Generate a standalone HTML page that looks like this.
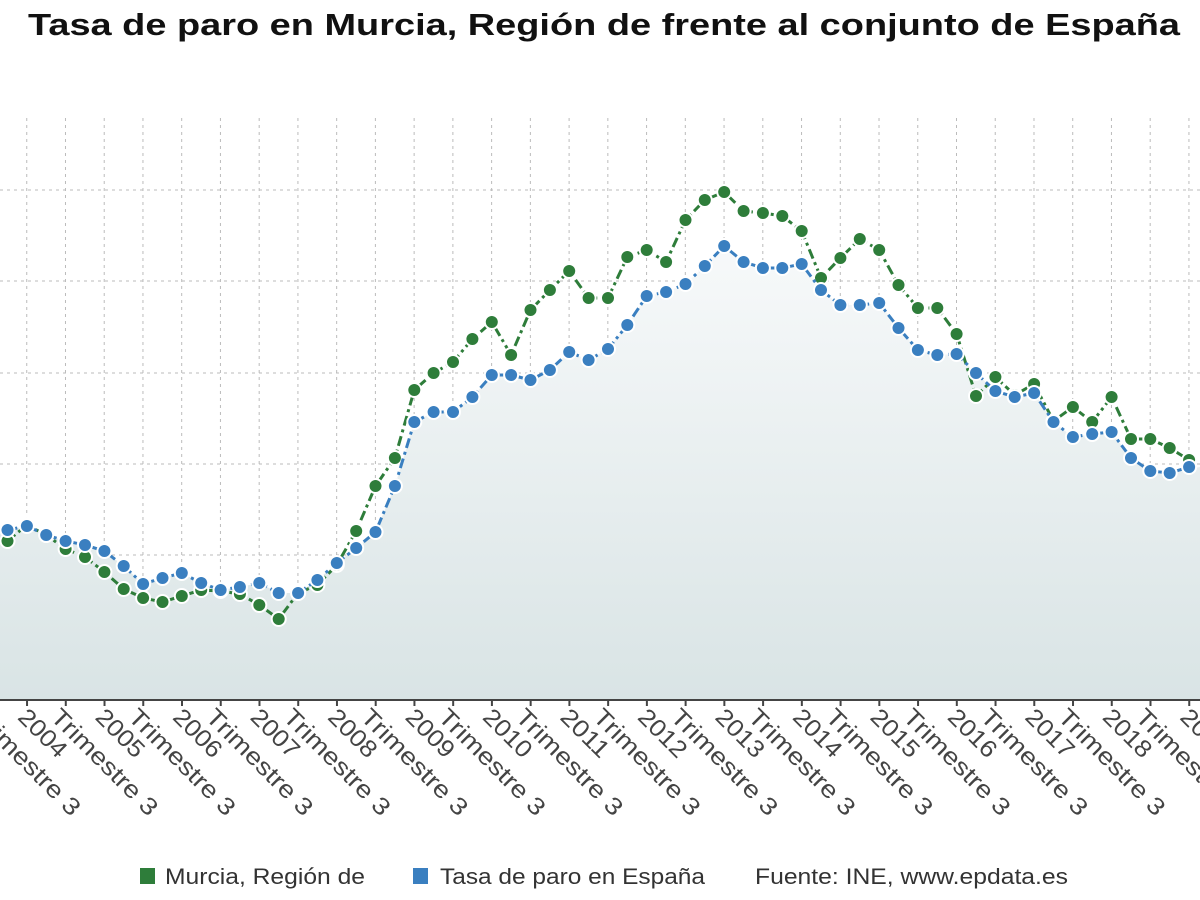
<!DOCTYPE html>
<html><head><meta charset="utf-8"><style>
html,body{margin:0;padding:0;background:#fff;width:1200px;height:900px;overflow:hidden}
svg{display:block;font-family:"Liberation Sans",sans-serif}
</style></head><body>
<svg id="s" width="1200" height="900" viewBox="0 0 1200 900">
<defs><linearGradient id="g" x1="0" y1="0" x2="0" y2="1">
<stop offset="0" stop-color="#f7f9fa"/><stop offset="1" stop-color="#d9e4e5"/></linearGradient></defs>
<text x="28" y="35" font-size="31" font-weight="bold" fill="#111" textLength="1152" lengthAdjust="spacingAndGlyphs">Tasa de paro en Murcia, Región de frente al conjunto de España</text>
<g id="c"></g>
<rect x="140" y="868" width="15" height="16" fill="#2e7d3a"/>
<text x="165" y="884" font-size="22" fill="#333" textLength="200" lengthAdjust="spacingAndGlyphs">Murcia, Región de</text>
<rect x="413" y="868" width="15" height="16" fill="#3a7fc0"/>
<text x="440" y="884" font-size="22" fill="#333" textLength="265" lengthAdjust="spacingAndGlyphs">Tasa de paro en España</text>
<text x="755" y="884" font-size="22" fill="#333" textLength="313" lengthAdjust="spacingAndGlyphs">Fuente: INE, www.epdata.es</text>
</svg>
<script>
var G=[541,525,535,549,557,572,589,598,602,596,590,591,594,605,619,593,585,565,531,486,458,390,373,362,339,322,355,310,290,271,298,298,257,250,262,220,200,192,211,213,216,231,278,258,239,250,285,308,308,334,396,377,395,384,421,407,422,397,439,439,448,460];
var B=[530,526,535,541,545,551,566,584,578,573,583,590,587,583,593,593,580,563,548,532,486,422,412,412,397,375,375,380,370,352,360,349,325,296,292,284,266,246,262,268,268,264,290,305,305,303,328,350,355,354,373,391,397,393,422,437,434,432,458,471,473,467];
var dx=19.37,x0=7.5,h='';
function X(i){return x0+i*dx}
[190,281,373,464,555,647].forEach(function(y){h+='<line x1="0" x2="1200" y1="'+y+'" y2="'+y+'" stroke="#bbb" stroke-dasharray="3,4"/>'});
for(var t=-12;t<1200;t+=38.74){h+='<line x1="'+t+'" x2="'+t+'" y1="118" y2="700" stroke="#bbb" stroke-dasharray="3,4"/>'}
var p='M'+X(0)+' 700';B.forEach(function(v,i){p+=' L'+X(i).toFixed(1)+' '+v});p+=' L'+X(B.length-1)+' 700 Z';
h+='<path d="M0 700 L0 530 '+p.slice(p.indexOf('L'))+' L1200 467 L1200 700 Z" fill="url(#g)"/>';
h+='<line x1="0" x2="1200" y1="700" y2="700" stroke="#444" stroke-width="2"/>';
function ser(a,c){var d='';a.forEach(function(v,i){d+=(i?'L':'M')+X(i).toFixed(1)+' '+v});
h+='<path d="'+d+'" fill="none" stroke="'+c+'" stroke-width="3" stroke-dasharray="10,4,3,4"/>';
a.forEach(function(v,i){h+='<circle cx="'+X(i).toFixed(1)+'" cy="'+v+'" r="7" fill="'+c+'" stroke="#fff" stroke-width="2"/>'});}
ser(G,'#2e7d3a');ser(B,'#3a7fc0');
var k=0,yr=2003;
for(var t=-11.7;t<1220;t+=38.74){var lab,tl;
if(k%2==0){lab='Trimestre 3';tl=140;}else{yr++;lab=String(yr);tl=58;}
h+='<line x1="'+t+'" x2="'+t+'" y1="700" y2="706" stroke="#444" stroke-width="2"/>';
var tx=(k%2==0)?t-10:t-4;
h+='<text transform="translate('+tx+',712) rotate(45)" font-size="24" fill="#444" dy="9" textLength="'+tl+'" lengthAdjust="spacingAndGlyphs">'+lab+'</text>';k++;}
document.getElementById('c').innerHTML=h;
</script>
</body></html>
